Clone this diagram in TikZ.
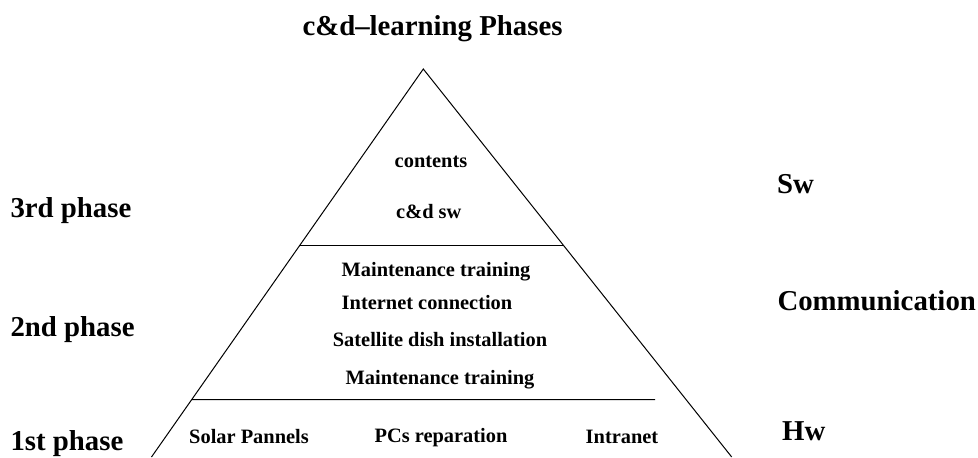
\documentclass[tikz,border=0pt]{standalone}
\usepackage{fontspec}
\setmainfont{Liberation Serif}
\usepackage{tikz}
\usetikzlibrary{calc}

\tikzset{
  big/.style={font=\fontsize{21.6}{25}\selectfont\bfseries, inner sep=0pt},
  small/.style={font=\fontsize{15.3}{18}\selectfont\bfseries, inner sep=0pt},
}

\begin{document}
\begin{tikzpicture}[x=0.75pt,y=0.75pt,yscale=-1,xscale=1,line width=0.75pt]
\useasboundingbox (0,0) rectangle (978,457);

% pyramid
\coordinate (apex) at (423.3,69);
\coordinate (botL) at (151.5,457);
\coordinate (botR) at (731.7,457);
\coordinate (swL) at ($(apex)!0.4536!(botL)$);
\coordinate (swR) at ($(apex)!0.4536!(botR)$);
\coordinate (hwL) at ($(apex)!0.8518!(botL)$);
\coordinate (hwR) at (655,399.5);

\draw (botL) -- (apex) -- (botR);
\draw (swL) -- (swR);
\draw (hwL) -- (hwR);

% title
\node[big, anchor=base] (title) at (432.5,35) {c\&d--learning Phases};

% inside the pyramid
\node[small, anchor=base] (contents) at (431,167.7) {contents};
\node[small, anchor=base west] (cdsw) at (395.7,218) {c\&d sw};

\node[small, anchor=base] (maint1) at (436,276.7) {Maintenance training};
\node[small, anchor=base] (inet) at (427,309) {Internet connection};
\node[small, anchor=base] (sat) at (440,346.7) {Satellite dish installation};
\node[small, anchor=base] (maint2) at (440,384.3) {Maintenance training};

\node[small, anchor=base] (solar) at (249,443) {Solar Pannels};
\node[small, anchor=base] (pcs) at (441,442.7) {PCs reparation};
\node[small, anchor=base] (intra) at (622,443) {Intranet};

% phases
\node[big, anchor=base west] (ph3) at (10,217.3) {3rd phase};
\node[big, anchor=base west] (ph2) at (10,336.7) {2nd phase};
\node[big, anchor=base west] (ph1) at (10,450) {1st phase};

% layers
\node[big, anchor=base west] (sw) at (776.7,193.3) {Sw};
\node[big, anchor=base west] (comm) at (777,310) {Communication};
\node[big, anchor=base west] (hw) at (781.7,440) {Hw};

\end{tikzpicture}
\end{document}
